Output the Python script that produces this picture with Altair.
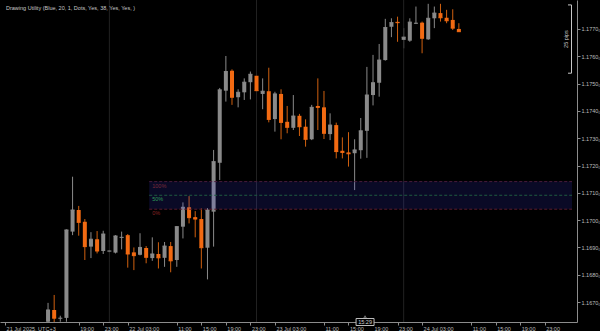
import altair as alt
import pandas as pd

# Hourly candles, starting 21 Jul 2025 14:00 (UTC+3)
open_ = [1.16628, 1.16671, 1.16640, 1.16642, 1.16958, 1.17037, 1.16994, 1.16903, 1.16930, 1.16887,
         1.16886, 1.16881, 1.16936, 1.16945, 1.16882, 1.16873, 1.16898, 1.16861, 1.16876, 1.16862,
         1.16905, 1.16854, 1.16976, 1.17047, 1.17011, 1.17004, 1.16899, 1.17031, 1.17210, 1.17474,
         1.17547, 1.17450, 1.17468, 1.17505, 1.17529, 1.17462, 1.17472, 1.17370, 1.17462, 1.17360,
         1.17338, 1.17382, 1.17342, 1.17296, 1.17418, 1.17413, 1.17315, 1.17348, 1.17254, 1.17248,
         1.17245, 1.17256, 1.17327, 1.17458, 1.17503, 1.17586, 1.17708, 1.17726, 1.17660, 1.17657,
         1.17720, 1.17723, 1.17662, 1.17739, 1.17758, 1.17741, 1.17733, 1.17700]
high = [1.16697, 1.16726, 1.16650, 1.16966, 1.17159, 1.17052, 1.17004, 1.16956, 1.16960, 1.16961,
        1.16890, 1.16945, 1.16958, 1.16949, 1.16900, 1.16952, 1.16905, 1.16937, 1.16919, 1.16920,
        1.16920, 1.16978, 1.17065, 1.17088, 1.17033, 1.17043, 1.17044, 1.17257, 1.17484, 1.17601,
        1.17552, 1.17479, 1.17519, 1.17544, 1.17538, 1.17519, 1.17558, 1.17470, 1.17479, 1.17418,
        1.17458, 1.17389, 1.17369, 1.17422, 1.17519, 1.17473, 1.17391, 1.17357, 1.17303, 1.17322,
        1.17296, 1.17374, 1.17561, 1.17605, 1.17645, 1.17737, 1.17739, 1.17745, 1.17703, 1.17739,
        1.17782, 1.17727, 1.17792, 1.17782, 1.17792, 1.17770, 1.17772, 1.17721]
low = [1.16610, 1.16620, 1.16628, 1.16628, 1.16945, 1.16943, 1.16854, 1.16861, 1.16878, 1.16876,
       1.16882, 1.16878, 1.16893, 1.16826, 1.16817, 1.16871, 1.16842, 1.16851, 1.16823, 1.16829,
       1.16809, 1.16829, 1.16933, 1.16988, 1.16937, 1.16823, 1.16783, 1.16903, 1.17147, 1.17434,
       1.17422, 1.17413, 1.17440, 1.17442, 1.17428, 1.17406, 1.17358, 1.17324, 1.17296, 1.17318,
       1.17330, 1.17308, 1.17269, 1.17293, 1.17330, 1.17297, 1.17293, 1.17226, 1.17226, 1.17196,
       1.17110, 1.17225, 1.17228, 1.17420, 1.17452, 1.17584, 1.17670, 1.17653, 1.17629, 1.17653,
       1.17718, 1.17611, 1.17660, 1.17703, 1.17727, 1.17721, 1.17696, 1.17690]
close = [1.16671, 1.16641, 1.16641, 1.16964, 1.17037, 1.16992, 1.16903, 1.16930, 1.16887, 1.16949,
         1.16887, 1.16942, 1.16937, 1.16876, 1.16870, 1.16900, 1.16864, 1.16876, 1.16862, 1.16905,
         1.16851, 1.16976, 1.17047, 1.17009, 1.17004, 1.16899, 1.17037, 1.17214, 1.17477, 1.17544,
         1.17450, 1.17468, 1.17505, 1.17534, 1.17474, 1.17472, 1.17369, 1.17462, 1.17358, 1.17340,
         1.17381, 1.17342, 1.17296, 1.17413, 1.17413, 1.17318, 1.17348, 1.17251, 1.17248, 1.17243,
         1.17257, 1.17327, 1.17458, 1.17503, 1.17586, 1.17705, 1.17723, 1.17723, 1.17670, 1.17725,
         1.17721, 1.17666, 1.17739, 1.17758, 1.17741, 1.17730, 1.17703, 1.17690]

# time axis (hours since 21 Jul 14:00)
tick_hours = [-7, 5, 9, 13, 21, 25, 29, 33, 37, 45, 49, 53, 57, 61, 69, 73, 77, 81]
tick_labels = ["21 Jul 2025, UTC+3", "19:00", "23:00", "22 Jul 03:00", "11:00", "15:00", "19:00",
               "23:00", "23 Jul 03:00", "11:00", "15:00", "19:00", "23:00", "24 Jul 03:00",
               "11:00", "15:00", "19:00", "23:00"]
day_breaks = [10, 34, 58]
price_ticks = [1.1670, 1.1680, 1.1690, 1.1700, 1.1710, 1.1720, 1.1730, 1.1740, 1.1750, 1.1760, 1.1770]

# time marker box on the axis
marker_h = 51.7
marker_text = "15:29"

# Fibonacci-like zone
zone_start = 16.5
zone_levels = [1.17141, 1.17091, 1.17040]
zone_names = ["100%", "50%", "0%"]
zone_line_colors = ["#4a1c3c", "#1e5a40", "#5a1c2c"]
zone_text_colors = ["#7a2a3a", "#2e9a5a", "#8a2424"]

# measurement bracket
pips_top = 1.17788
pips_bottom = 1.17538
pips_text = "25 pips"

header = "Drawing Utility (Blue, 20, 1, Dots, Yes, 38, Yes, Yes, )"

X_DOM = [-7.02, 85.45]
Y_DOM = [1.16627, 1.17806]
GRAY = "#8a8a8a"
ORANGE = "#f26a12"
FONT = "Liberation Sans"
AX = "#8c8c8c"
LBL = "#bdbdbd"

df = pd.DataFrame({"h": list(range(len(open_))), "open": open_, "high": high,
                   "low": low, "close": close})
df["body"] = [GRAY if c >= o else ORANGE for o, c in zip(open_, close)]
df["wick"] = [GRAY if c >= o else "#d0600f" for o, c in zip(open_, close)]

xs = alt.Scale(domain=X_DOM, nice=False, zero=False)
ys = alt.Scale(domain=Y_DOM, nice=False, zero=False)

label_expr = ("[" + ",".join("'" + t + "'" for t in tick_labels) + "][indexof(["
              + ",".join(str(v) for v in tick_hours) + "], datum.value)]")

x_axis = alt.Axis(
    values=tick_hours, labelExpr=label_expr, labelAlign="left", labelOffset=1,
    labelOverlap=False, labelBound=False, labelFlush=False, tickSize=3, labelPadding=1,
    title=None, grid=False, domainColor=AX, tickColor=AX,
    labelColor=LBL, labelFontSize=5.5, labelFont=FONT)
y_axis = alt.Axis(
    orient="right", values=price_ticks, labelExpr="format(datum.value, '.4f') + '₀'",
    tickSize=3, labelPadding=1, title=None, grid=False, domainColor=AX,
    tickColor=AX, labelColor=LBL, labelFontSize=5.5, labelFont=FONT,
    labelOverlap=False, labelBound=False, labelFlush=False)

base = alt.Chart(df)

wicks = base.mark_rule(strokeWidth=1, clip=True).encode(
    x=alt.X("h:Q", scale=xs, axis=x_axis),
    y=alt.Y("low:Q", scale=ys, axis=y_axis),
    y2="high:Q",
    color=alt.Color("wick:N", scale=None))

days = alt.Chart(pd.DataFrame({"h": day_breaks})).mark_rule(
    color="#222222", strokeWidth=1, clip=True).encode(x=alt.X("h:Q", scale=xs, axis=x_axis))

bodies = base.mark_bar(size=4, clip=True).encode(
    x=alt.X("h:Q", scale=xs, axis=x_axis),
    y=alt.Y("open:Q", scale=ys, axis=y_axis),
    y2="close:Q",
    color=alt.Color("body:N", scale=None))

closes = base.mark_rule(strokeWidth=1, xOffset=-2, x2Offset=2, clip=True).encode(
    x=alt.X("h:Q", scale=xs, axis=x_axis), x2="h:Q",
    y=alt.Y("close:Q", scale=ys, axis=y_axis),
    color=alt.Color("body:N", scale=None))

zdf = pd.DataFrame({"x": [zone_start], "x2": [X_DOM[1]],
                    "top": [zone_levels[0]], "bot": [zone_levels[2]]})
zone = alt.Chart(zdf).mark_rect(color="#4040ff", opacity=0.15, clip=True).encode(
    x=alt.X("x:Q", scale=xs, axis=x_axis), x2="x2:Q",
    y=alt.Y("top:Q", scale=ys, axis=y_axis), y2="bot:Q")

ldf = pd.DataFrame({"x": [zone_start] * 3, "x2": [X_DOM[1]] * 3, "p": zone_levels,
                    "name": zone_names, "lc": zone_line_colors, "tc": zone_text_colors})
zlines = alt.Chart(ldf).mark_rule(strokeDash=[3, 2], strokeWidth=1, clip=True).encode(
    x=alt.X("x:Q", scale=xs, axis=x_axis), x2="x2:Q",
    y=alt.Y("p:Q", scale=ys, axis=y_axis),
    color=alt.Color("lc:N", scale=None))
zlabels = alt.Chart(ldf).mark_text(align="left", baseline="top", dx=3, dy=2,
                                   fontSize=5.5, font=FONT).encode(
    x=alt.X("x:Q", scale=xs, axis=x_axis), y=alt.Y("p:Q", scale=ys, axis=y_axis),
    text="name:N", color=alt.Color("tc:N", scale=None))

hdr = alt.Chart(pd.DataFrame({"t": [header]})).mark_text(
    align="left", baseline="middle", fontSize=5.5, font=FONT, color="#c8c8c8").encode(
    x=alt.value(6), y=alt.value(8), text="t:N")

pdf = pd.DataFrame({"top": [pips_top], "bot": [pips_bottom], "t": [pips_text],
                    "mid": [(pips_top + pips_bottom) / 2]})
pline = alt.Chart(pdf).mark_rule(color="#c8c8c8", strokeWidth=1).encode(
    x=alt.value(571.5), y=alt.Y("top:Q", scale=ys, axis=y_axis), y2="bot:Q")
ptop = alt.Chart(pdf).mark_rule(color="#c8c8c8", strokeWidth=1).encode(
    x=alt.value(568), x2=alt.value(571.5), y=alt.Y("top:Q", scale=ys, axis=y_axis))
pbot = alt.Chart(pdf).mark_rule(color="#c8c8c8", strokeWidth=1).encode(
    x=alt.value(568), x2=alt.value(571.5), y=alt.Y("bot:Q", scale=ys, axis=y_axis))
ptext = alt.Chart(pdf).mark_text(angle=270, fontSize=5.5, font=FONT, color="#c8c8c8",
                                 baseline="middle", align="center").encode(
    x=alt.value(566), y=alt.Y("mid:Q", scale=ys, axis=y_axis), text="t:N")

mdf = pd.DataFrame({"h": [marker_h], "t": [marker_text]})
mbox = alt.Chart(mdf).mark_rect(fill="#000000", stroke="#bdbdbd", strokeWidth=1,
                                xOffset=-9, x2Offset=9).encode(
    x=alt.X("h:Q", scale=xs, axis=x_axis), x2="h:Q",
    y=alt.value(318.5), y2=alt.value(325.5))
mcaret = alt.Chart(mdf).mark_point(shape="triangle-up", size=6, filled=False,
                                   color="#bdbdbd", strokeWidth=0.8).encode(
    x=alt.X("h:Q", scale=xs, axis=x_axis), y=alt.value(316.8))
mtext = alt.Chart(mdf).mark_text(fontSize=5.5, font=FONT, color="#d0d0d0",
                                 baseline="middle", align="center").encode(
    x=alt.X("h:Q", scale=xs, axis=x_axis), y=alt.value(322.2), text="t:N")

chart = alt.layer(wicks, days, bodies, closes, zone, zlines, zlabels, hdr,
                  pline, ptop, pbot, ptext, mbox, mcaret, mtext).properties(
    width=577, height=322, background="#000000",
    autosize=alt.AutoSizeParams(type="none"),
    padding={"left": 0, "top": 0, "right": 23, "bottom": 9},
).configure_view(stroke=None).configure_axis(labelOverlap=False)

chart.save("out.html", embed_options={"renderer": "svg", "actions": False})
